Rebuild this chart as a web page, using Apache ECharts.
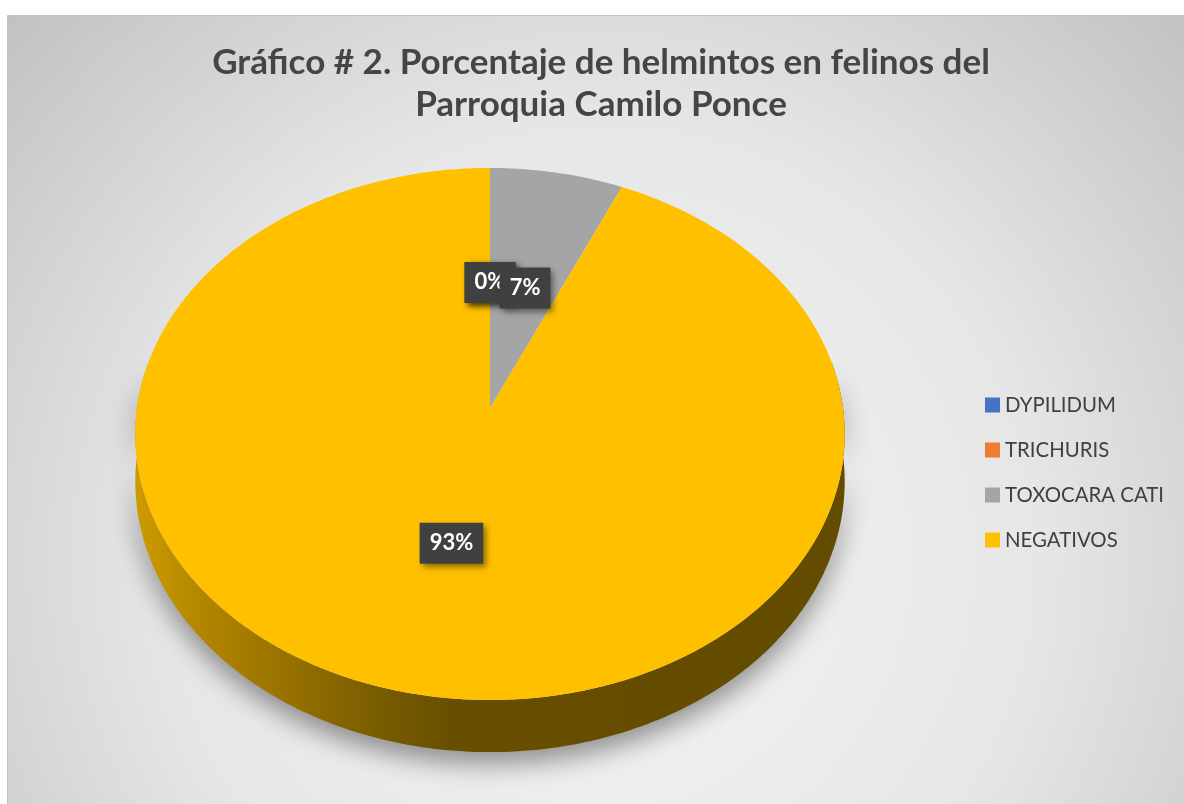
<!DOCTYPE html>
<html><head><meta charset="utf-8">
<script src="https://cdn.jsdelivr.net/npm/echarts@6/dist/echarts.min.js"></script>
<style>html,body{margin:0;padding:0;background:#fff;}#c{width:1184px;height:804px;}</style>
</head><body><div id="c"></div>
<script>
// ---- data ----
const categories = ['DYPILIDUM', 'TRICHURIS', 'TOXOCARA CATI', 'NEGATIVOS'];
const values = [0, 0, 6.67, 93.33];
const colors = ['#4472C4', '#ED7D31', '#A5A5A5', '#FFC000'];
const titleLines = ['Gráfico # 2. Porcentaje de helmintos en felinos del', 'Parroquia Camilo Ponce'];

// ---- derived ----
const total = values.reduce((s, v) => s + v, 0);
const starts = []; let acc = 0;
values.forEach(v => { starts.push(acc); acc += v; });
const items = values.map((v, i) => [starts[i], v, i]);

// ---- 3D projection (layout constants) ----
const CX = 490, CY = 408, RX = 353, RY = 263.5, PA = 0.0977, DEPTH = 47;
function proj(th, r, dz) {
  const u = r * Math.sin(th), v = -r * Math.cos(th);
  const f = 1 / (1 - PA * v);
  return [CX + RX * u * f, CY + RY * v * f + dz * DEPTH * f];
}
function arcPts(t0, t1, r, dz) {
  const n = Math.max(2, Math.ceil((t1 - t0) / (Math.PI / 180)));
  const pts = [];
  for (let k = 0; k <= n; k++) pts.push(proj(t0 + (t1 - t0) * k / n, r, dz));
  return pts;
}
function angles(api) {
  const s = api.value(0), v = api.value(1);
  return [s / total * 2 * Math.PI, (s + v) / total * 2 * Math.PI];
}
function shade(hex, k) {
  const n = parseInt(hex.slice(1), 16);
  const r = Math.round(((n >> 16) & 255) * k), g = Math.round(((n >> 8) & 255) * k), b = Math.round((n & 255) * k);
  return 'rgb(' + r + ',' + g + ',' + b + ')';
}

function renderSide(params, api) {
  let [t0, t1] = angles(api);
  const i = api.value(2);
  t0 = Math.max(t0, 80 * Math.PI / 180);
  t1 = Math.min(t1, 280 * Math.PI / 180);
  if (t1 - t0 <= 0) return { type: 'group', children: [] };
  const top = arcPts(t0, t1, 1, 0), bot = arcPts(t0, t1, 1, 1).reverse();
  const base = colors[i];
  return {
    type: 'polygon',
    shape: { points: top.concat(bot) },
    style: {
      fill: {
        type: 'linear', x: CX - RX, y: 0, x2: CX + RX, y2: 0, global: true,
        colorStops: [
          { offset: 0, color: shade(base, 0.8) },
          { offset: 0.1, color: shade(base, 0.69) },
          { offset: 0.34, color: shade(base, 0.48) },
          { offset: 0.45, color: shade(base, 0.405) },
          { offset: 1, color: shade(base, 0.39) }
        ]
      },
      shadowBlur: 26, shadowColor: 'rgba(0,0,0,0.4)', shadowOffsetY: 12
    }
  };
}
function renderFace(params, api) {
  const [t0, t1] = angles(api);
  const i = api.value(2);
  if (t1 - t0 <= 0) return { type: 'group', children: [] };
  const pts = [proj(0, 0, 0)].concat(arcPts(t0, t1, 1, 0));
  return { type: 'polygon', shape: { points: pts }, style: { fill: colors[i] } };
}
function renderLabel(params, api) {
  const [t0, t1] = angles(api);
  const i = api.value(2);
  const p = proj((t0 + t1) / 2, 0.5, 0);
  return {
    type: 'text', x: p[0], y: p[1] + (i === 2 ? 3 : 0), z2: 10 + i,
    style: {
      text: Math.round(api.value(1) / total * 100) + '%',
      fill: '#ffffff', fontFamily: 'Lato', fontSize: 22, fontWeight: 'bold',
      align: 'center', verticalAlign: 'middle', lineHeight: 23,
      backgroundColor: '#404040', padding: [9, 10],
      shadowBlur: 6, shadowColor: 'rgba(0,0,0,0.45)', shadowOffsetX: 3, shadowOffsetY: 3
    }
  };
}

const chart = echarts.init(document.getElementById('c'), null, { renderer: 'canvas' });
chart.setOption({
  animation: false,
  graphic: [{
    type: 'rect', z: -100, silent: true,
    shape: { x: 7.5, y: 15.5, width: 1177, height: 789 },
    style: {
      fill: { type: 'radial', x: 600, y: 560, r: 800, global: true,
        colorStops: [{ offset: 0, color: '#f6f6f6' }, { offset: 0.55, color: '#e6e6e6' }, { offset: 1, color: '#c2c2c2' }] },
      stroke: '#c4c4c4', lineWidth: 1
    }
  }],
  title: {
    text: titleLines.join('\n'), left: 596, top: 37, textAlign: 'center',
    textStyle: { fontFamily: 'Lato', fontSize: 35, fontWeight: 'bold', color: '#454545', lineHeight: 42 }
  },
  legend: {
    orient: 'vertical', left: 980, top: 390, itemWidth: 15, itemHeight: 15, itemGap: 25, icon: 'rect',
    data: categories.map((c, i) => ({ name: c, itemStyle: { color: colors[i] } })),
    textStyle: { fontFamily: 'Lato', fontSize: 20.4, color: '#404040', lineHeight: 20 }
  },
  series: [
    { type: 'custom', name: '__side', coordinateSystem: 'none', z: 1, silent: true, data: items, renderItem: renderSide },
    ...categories.map((c, i) => ({
      type: 'custom', name: c, coordinateSystem: 'none', z: 2, silent: true,
      itemStyle: { color: colors[i] }, data: [items[i]], renderItem: renderFace
    })),
    { type: 'custom', name: '__labels', coordinateSystem: 'none', z: 3, silent: true, data: items, renderItem: renderLabel }
  ]
});
</script>
</body></html>
